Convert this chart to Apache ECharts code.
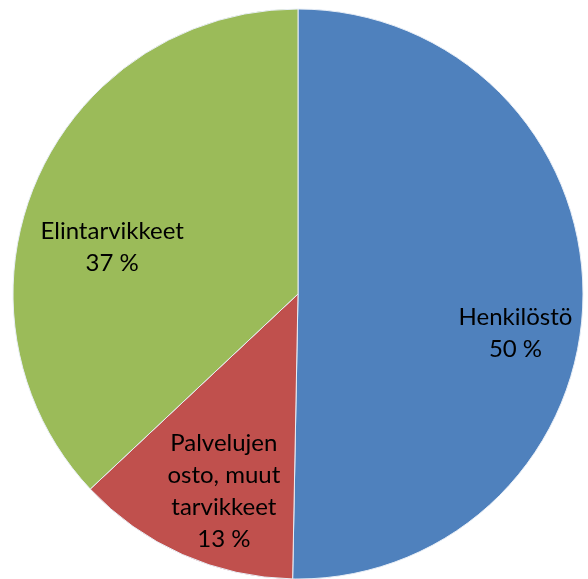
<!DOCTYPE html>
<html>
<head>
<meta charset="UTF-8">
<script src="https://cdn.jsdelivr.net/npm/echarts@6/dist/echarts.min.js"></script>
<style>
html, body { margin: 0; padding: 0; background: #fff; }
#graph { width: 588px; height: 579px; }
</style>
</head>
<body>
<div id="graph"></div>
<script>
var categories = ['Henkilöstö', 'Palvelujen\nosto, muut\ntarvikkeet', 'Elintarvikkeet'];
var values = [50.3, 12.7, 37.0];
var colors = ['#4F81BD', '#C0504D', '#9BBB59'];
var labelOffsets = [[15, 37], [8, 12], [0, 34]];

var data = [];
var labelData = [];
for (var i = 0; i < categories.length; i++) {
	data.push({ name: categories[i], value: values[i], itemStyle: { color: colors[i] } });
	labelData.push({ name: categories[i], value: values[i], label: { offset: labelOffsets[i] } });
}

var myChart = echarts.init(document.getElementById('graph'));
var option = {
	animation: false,
	series: [
		{
			type: 'pie',
			center: [298, 294],
			radius: [0, 285],
			startAngle: 90,
			clockwise: true,
			silent: true,
			label: { show: false },
			labelLine: { show: false },
			itemStyle: { borderColor: '#e8eef6', borderWidth: 1 },
			data: data
		},
		{
			// transparent ring only to place labels at ~0.7 radius
			type: 'pie',
			center: [298, 294],
			radius: [114, 285],
			startAngle: 90,
			clockwise: true,
			silent: true,
			itemStyle: { color: 'rgba(0,0,0,0)' },
			label: {
				show: true,
				position: 'inside',
				color: '#000',
				fontFamily: 'Lato',
				fontSize: 24,
				lineHeight: 32,
				formatter: function (p) {
					return p.name + '\n' + Math.round(p.value) + ' %';
				}
			},
			labelLine: { show: false },
			data: labelData
		}
	]
};
myChart.setOption(option);
</script>
</body>
</html>
